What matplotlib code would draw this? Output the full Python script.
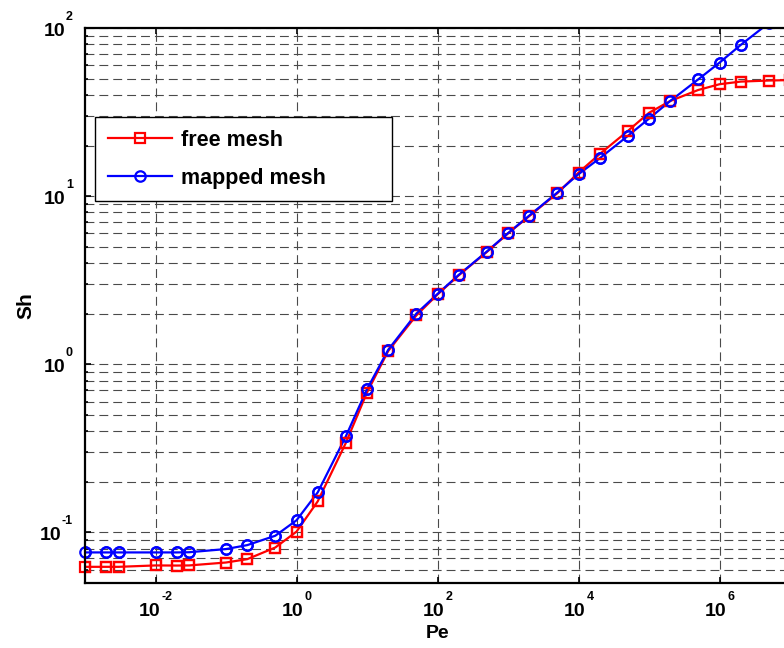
import numpy as np
import matplotlib
matplotlib.use("Agg")
import matplotlib.pyplot as plt
import matplotlib.transforms as mtransforms
from matplotlib.ticker import FixedLocator, LogLocator, NullFormatter, NullLocator

plt.rcParams['font.family'] = ['Liberation Sans', 'DejaVu Sans']
plt.rcParams['font.weight'] = 'bold'

# Peclet numbers and Sherwood numbers
pe = np.array([1e-3, 2e-3, 3e-3, 1e-2, 2e-2, 3e-2, 0.1, 0.2, 0.5, 1, 2, 5,
               10, 20, 50, 100, 200, 500, 1e3, 2e3, 5e3, 1e4, 2e4, 5e4,
               1e5, 2e5, 5e5, 1e6, 2e6, 5e6, 1e7])
sh_free = np.array([0.0624, 0.0624, 0.0624, 0.0636, 0.0635, 0.0636, 0.0662, 0.0693,
                    0.0813, 0.101, 0.153, 0.340, 0.679, 1.20, 1.95, 2.6, 3.38, 4.65,
                    6.0, 7.6, 10.4, 13.8, 17.8, 24.4, 31.3, 36.8, 42.8, 46.3, 48.0,
                    48.7, 49.0])
sh_mapped = np.array([0.076, 0.076, 0.076, 0.076, 0.076, 0.0762, 0.0796, 0.084,
                      0.0955, 0.118, 0.173, 0.372, 0.711, 1.22, 2.0, 2.62, 3.40, 4.68,
                      6.02, 7.66, 10.5, 13.5, 16.8, 22.8, 28.9, 36.8, 49.5, 62.2, 79.3,
                      107, 140])

xtick_exp = [-2, 0, 2, 4, 6]
ytick_exp = [-1, 0, 1, 2]
xlim = (1e-3, 1e7)
ylim = (0.05, 100)

fig = plt.figure(figsize=(7.84, 6.48), dpi=100)
# axes run slightly past the right edge, as in the cropped original
ax = fig.add_axes([85/784, 65/648, 705/784, 555/648])
ax.set_xscale('log')
ax.set_yscale('log')
ax.set_xlim(*xlim)
ax.set_ylim(*ylim)

grid_style = dict(color='#4a4a4a', linewidth=0.8, linestyle=(0, (8, 4.5)))
ax.xaxis.set_major_locator(FixedLocator([10.0**e for e in xtick_exp]))
ax.xaxis.set_minor_locator(NullLocator())
ax.yaxis.set_major_locator(FixedLocator([10.0**e for e in ytick_exp]))
ax.yaxis.set_minor_locator(LogLocator(base=10, subs=np.arange(2, 10)))
for axis in (ax.xaxis, ax.yaxis):
    axis.set_major_formatter(NullFormatter())
    axis.set_minor_formatter(NullFormatter())
ax.grid(True, which='major', **grid_style)
ax.grid(True, which='minor', axis='y', **grid_style)
ax.set_axisbelow(True)

ax.tick_params(which='both', direction='in', top=True, right=True, width=1.2)
ax.tick_params(which='major', length=4.5)
ax.tick_params(which='minor', length=2.5)
for s in ax.spines.values():
    s.set_linewidth(1.6)

# MATLAB-style "10" with a raised exponent
base_fs, exp_fs = 14, 9
px = 100 / 72.0
w10 = 2 * 0.556 * base_fs * px
def exp_width(e):
    s = str(e)
    return sum(0.333 if c == '-' else 0.556 for c in s) * exp_fs * px

xtrans = mtransforms.blended_transform_factory(ax.transData, ax.transAxes)
for e in xtick_exp:
    total = w10 + 1 + exp_width(e)
    right10 = -total / 2 + w10
    ax.text(10.0**e, 0, '10', fontsize=base_fs, ha='right', va='baseline',
            transform=mtransforms.offset_copy(xtrans, fig, x=right10, y=-33, units='dots'))
    ax.text(10.0**e, 0, str(e), fontsize=exp_fs, ha='left', va='baseline',
            transform=mtransforms.offset_copy(xtrans, fig, x=right10 + 1, y=-17, units='dots'))

ytrans = mtransforms.blended_transform_factory(ax.transAxes, ax.transData)
for e in ytick_exp:
    ax.text(0, 10.0**e, str(e), fontsize=exp_fs, ha='right', va='baseline',
            transform=mtransforms.offset_copy(ytrans, fig, x=-12, y=8.5, units='dots'))
    ax.text(0, 10.0**e, '10', fontsize=base_fs, ha='right', va='baseline',
            transform=mtransforms.offset_copy(ytrans, fig, x=-13 - exp_width(e), y=-7.5,
                                              units='dots'))

line_kw = dict(linewidth=1.6, markersize=7.5, markerfacecolor='none', markeredgewidth=1.6)
ax.plot(pe, sh_free, color='red', marker='s', label='free mesh', **line_kw)
ax.plot(pe, sh_mapped, color='blue', marker='o', label='mapped mesh', **line_kw)

# markers on the axes edge are drawn whole
inside = (sh_free >= ylim[0]) & (sh_free <= ylim[1])
ax.plot(pe[inside], sh_free[inside], linestyle='none', color='red', marker='s',
        clip_on=False, markersize=7.5, markerfacecolor='none', markeredgewidth=1.6)
inside = (sh_mapped >= ylim[0]) & (sh_mapped <= ylim[1])
ax.plot(pe[inside], sh_mapped[inside], linestyle='none', color='blue', marker='o',
        clip_on=False, markersize=7.5, markerfacecolor='none', markeredgewidth=1.6)

ax.set_xlabel('Pe', fontsize=14, fontweight='bold')
ax.xaxis.set_label_coords(0.5, (583 - 625) / 555)
ax.set_ylabel('Sh', fontsize=15, fontweight='bold')
ax.yaxis.set_label_coords((35 - 85) / 705, 0.5)

leg = ax.legend(loc='upper left', bbox_to_anchor=(10/705, 0.6865, 297/705, 0.153),
                mode='expand', fontsize=15.5, handlelength=2.98, handletextpad=0.42,
                labelspacing=0.77, borderpad=0.6, borderaxespad=0, fancybox=False,
                framealpha=1, edgecolor='black')
leg.get_frame().set_linewidth(1.0)

fig.savefig('out.png', dpi=100)
